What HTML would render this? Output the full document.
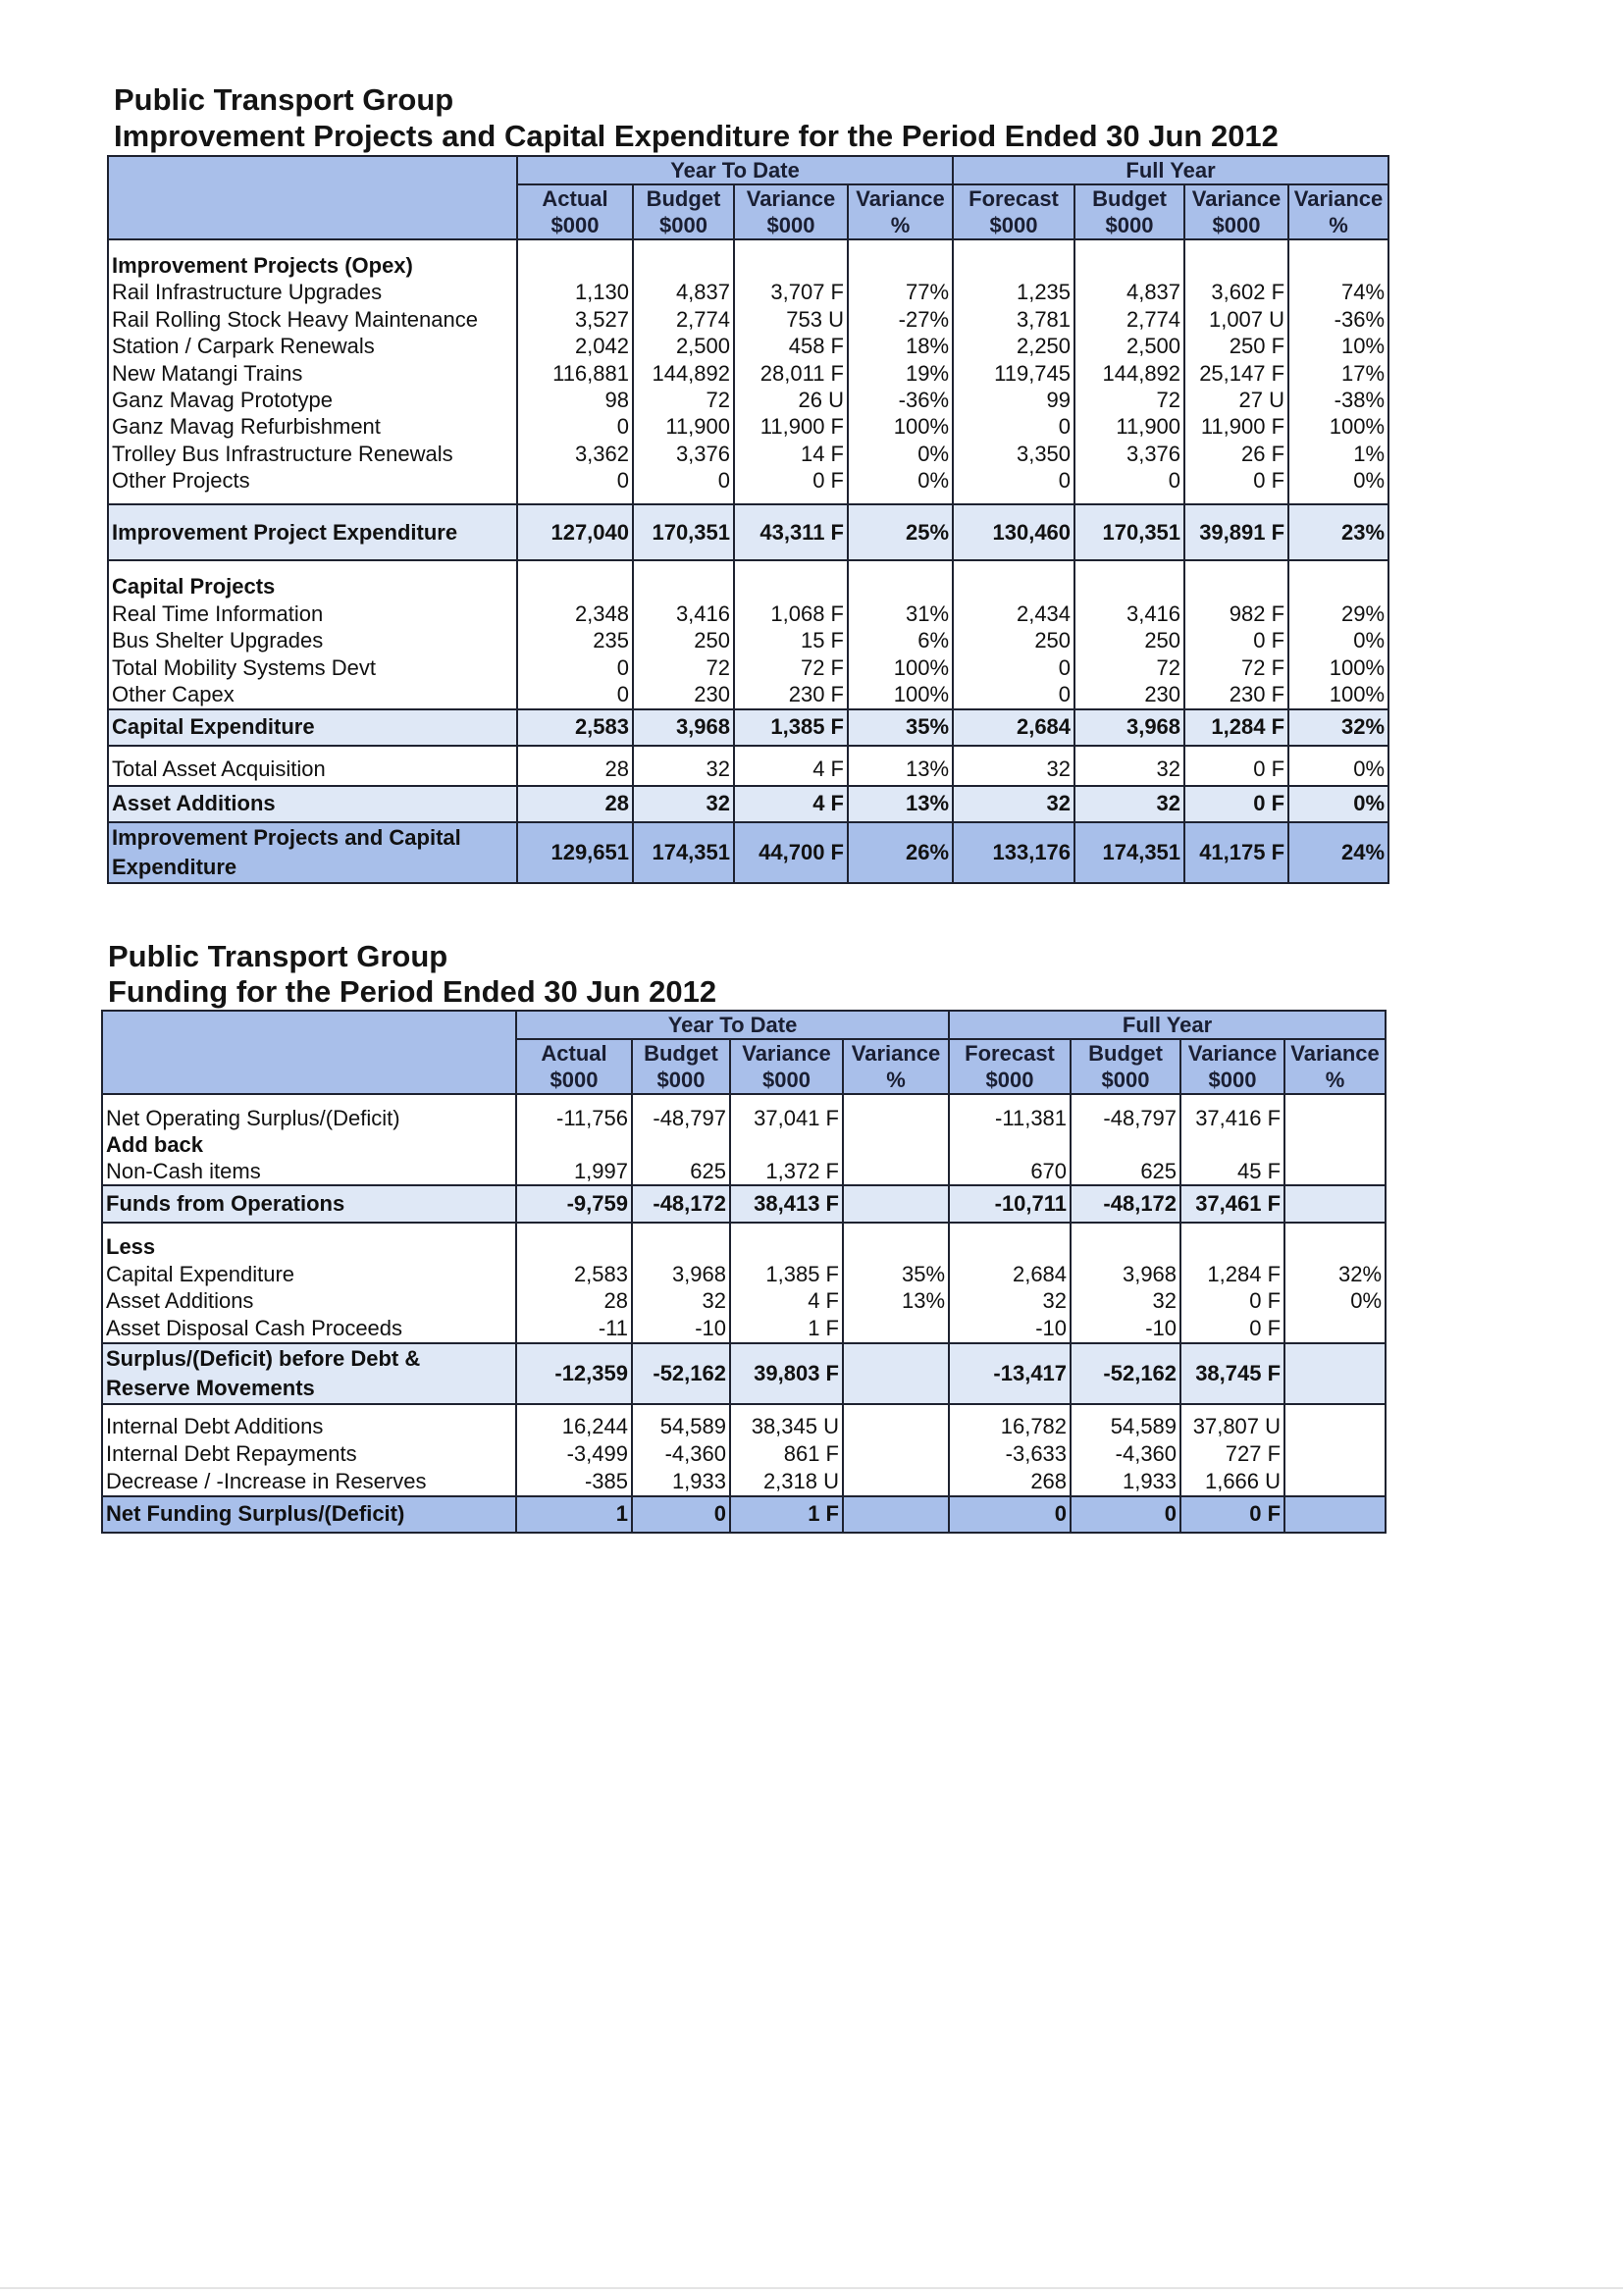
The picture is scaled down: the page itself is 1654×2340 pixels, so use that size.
<!DOCTYPE html>
<html><head><meta charset="utf-8"><style>
body{margin:0;width:1654px;height:2340px;background:#fff;position:relative;overflow:hidden;font-family:"Liberation Sans",Arial,sans-serif;color:#111}
.ti{position:absolute;font-weight:bold;font-size:31px;line-height:31px;white-space:nowrap;color:#141414}
table{position:absolute;border-collapse:collapse;table-layout:fixed;font-size:22px}
td{border:2px solid #1e2230;padding:0 3px;vertical-align:top;white-space:nowrap;overflow:hidden}
.h{background:#a9bfea;font-weight:bold;text-align:center;vertical-align:middle;line-height:27px;color:#1a1f33}
.r{text-align:right}
.s{background:#dfe8f6;font-weight:bold;vertical-align:middle}
.f{background:#a8bfea;font-weight:bold;vertical-align:middle}
b{font-weight:bold}
</style></head><body>

<div class="ti" style="left:116px;top:86px">Public Transport Group</div>
<div class="ti" style="left:116px;top:123px">Improvement Projects and Capital Expenditure for the Period Ended 30 Jun 2012</div>

<table style="left:109px;top:158px;width:1305px">
<colgroup><col style="width:417px"><col style="width:118px"><col style="width:103px"><col style="width:116px"><col style="width:107px"><col style="width:124px"><col style="width:112px"><col style="width:106px"><col style="width:102px"></colgroup>
<tr style="height:29px"><td class="h" rowspan="2"></td><td class="h" colspan="4">Year To Date</td><td class="h" colspan="4">Full Year</td></tr>
<tr style="height:55px"><td class="h">Actual<br>$000</td><td class="h">Budget<br>$000</td><td class="h">Variance<br>$000</td><td class="h">Variance<br>%</td><td class="h">Forecast<br>$000</td><td class="h">Budget<br>$000</td><td class="h">Variance<br>$000</td><td class="h">Variance<br>%</td></tr>
<tr style="height:270px;line-height:27.4px">
<td style="padding-top:12px"><b>Improvement Projects (Opex)</b><br>Rail Infrastructure Upgrades<br>Rail Rolling Stock Heavy Maintenance<br>Station / Carpark Renewals<br>New Matangi Trains<br>Ganz Mavag Prototype<br>Ganz Mavag Refurbishment<br>Trolley Bus Infrastructure Renewals<br>Other Projects</td>
<td class="r" style="padding-top:12px">&nbsp;<br>1,130<br>3,527<br>2,042<br>116,881<br>98<br>0<br>3,362<br>0</td>
<td class="r" style="padding-top:12px">&nbsp;<br>4,837<br>2,774<br>2,500<br>144,892<br>72<br>11,900<br>3,376<br>0</td>
<td class="r" style="padding-top:12px">&nbsp;<br>3,707 F<br>753 U<br>458 F<br>28,011 F<br>26 U<br>11,900 F<br>14 F<br>0 F</td>
<td class="r" style="padding-top:12px">&nbsp;<br>77%<br>-27%<br>18%<br>19%<br>-36%<br>100%<br>0%<br>0%</td>
<td class="r" style="padding-top:12px">&nbsp;<br>1,235<br>3,781<br>2,250<br>119,745<br>99<br>0<br>3,350<br>0</td>
<td class="r" style="padding-top:12px">&nbsp;<br>4,837<br>2,774<br>2,500<br>144,892<br>72<br>11,900<br>3,376<br>0</td>
<td class="r" style="padding-top:12px">&nbsp;<br>3,602 F<br>1,007 U<br>250 F<br>25,147 F<br>27 U<br>11,900 F<br>26 F<br>0 F</td>
<td class="r" style="padding-top:12px">&nbsp;<br>74%<br>-36%<br>10%<br>17%<br>-38%<br>100%<br>1%<br>0%</td></tr>
<tr style="height:57px"><td class="s">Improvement Project Expenditure</td><td class="s r">127,040</td><td class="s r">170,351</td><td class="s r">43,311 F</td><td class="s r">25%</td><td class="s r">130,460</td><td class="s r">170,351</td><td class="s r">39,891 F</td><td class="s r">23%</td></tr>
<tr style="height:149px;line-height:27.5px">
<td style="padding-top:12px"><b>Capital Projects</b><br>Real Time Information<br>Bus Shelter Upgrades<br>Total Mobility Systems Devt<br>Other Capex</td>
<td class="r" style="padding-top:12px">&nbsp;<br>2,348<br>235<br>0<br>0</td>
<td class="r" style="padding-top:12px">&nbsp;<br>3,416<br>250<br>72<br>230</td>
<td class="r" style="padding-top:12px">&nbsp;<br>1,068 F<br>15 F<br>72 F<br>230 F</td>
<td class="r" style="padding-top:12px">&nbsp;<br>31%<br>6%<br>100%<br>100%</td>
<td class="r" style="padding-top:12px">&nbsp;<br>2,434<br>250<br>0<br>0</td>
<td class="r" style="padding-top:12px">&nbsp;<br>3,416<br>250<br>72<br>230</td>
<td class="r" style="padding-top:12px">&nbsp;<br>982 F<br>0 F<br>72 F<br>230 F</td>
<td class="r" style="padding-top:12px">&nbsp;<br>29%<br>0%<br>100%<br>100%</td></tr>
<tr style="height:37px"><td class="s">Capital Expenditure</td><td class="s r">2,583</td><td class="s r">3,968</td><td class="s r">1,385 F</td><td class="s r">35%</td><td class="s r">2,684</td><td class="s r">3,968</td><td class="s r">1,284 F</td><td class="s r">32%</td></tr>
<tr style="height:41px"><td style="vertical-align:bottom;padding-bottom:3px">Total Asset Acquisition</td><td class="r" style="vertical-align:bottom;padding-bottom:3px">28</td><td class="r" style="vertical-align:bottom;padding-bottom:3px">32</td><td class="r" style="vertical-align:bottom;padding-bottom:3px">4 F</td><td class="r" style="vertical-align:bottom;padding-bottom:3px">13%</td><td class="r" style="vertical-align:bottom;padding-bottom:3px">32</td><td class="r" style="vertical-align:bottom;padding-bottom:3px">32</td><td class="r" style="vertical-align:bottom;padding-bottom:3px">0 F</td><td class="r" style="vertical-align:bottom;padding-bottom:3px">0%</td></tr>
<tr style="height:37px"><td class="s">Asset Additions</td><td class="s r">28</td><td class="s r">32</td><td class="s r">4 F</td><td class="s r">13%</td><td class="s r">32</td><td class="s r">32</td><td class="s r">0 F</td><td class="s r">0%</td></tr>
<tr style="height:60px"><td class="f" style="line-height:30px">Improvement Projects and Capital<br>Expenditure</td><td class="f r">129,651</td><td class="f r">174,351</td><td class="f r">44,700 F</td><td class="f r">26%</td><td class="f r">133,176</td><td class="f r">174,351</td><td class="f r">41,175 F</td><td class="f r">24%</td></tr>
</table>

<div class="ti" style="left:110px;top:959px">Public Transport Group</div>
<div class="ti" style="left:110px;top:995px">Funding for the Period Ended 30 Jun 2012</div>

<table style="left:103px;top:1029px;width:1308px">
<colgroup><col style="width:422px"><col style="width:118px"><col style="width:100px"><col style="width:115px"><col style="width:108px"><col style="width:124px"><col style="width:112px"><col style="width:106px"><col style="width:103px"></colgroup>
<tr style="height:28px"><td class="h" rowspan="2"></td><td class="h" colspan="4">Year To Date</td><td class="h" colspan="4">Full Year</td></tr>
<tr style="height:56px"><td class="h">Actual<br>$000</td><td class="h">Budget<br>$000</td><td class="h">Variance<br>$000</td><td class="h">Variance<br>%</td><td class="h">Forecast<br>$000</td><td class="h">Budget<br>$000</td><td class="h">Variance<br>$000</td><td class="h">Variance<br>%</td></tr>
<tr style="height:92px;line-height:27px">
<td style="padding-top:10px">Net Operating Surplus/(Deficit)<br><b>Add back</b><br>Non-Cash items</td>
<td class="r" style="padding-top:10px">-11,756<br>&nbsp;<br>1,997</td>
<td class="r" style="padding-top:10px">-48,797<br>&nbsp;<br>625</td>
<td class="r" style="padding-top:10px">37,041 F<br>&nbsp;<br>1,372 F</td>
<td class="r" style="padding-top:10px"></td>
<td class="r" style="padding-top:10px">-11,381<br>&nbsp;<br>670</td>
<td class="r" style="padding-top:10px">-48,797<br>&nbsp;<br>625</td>
<td class="r" style="padding-top:10px">37,416 F<br>&nbsp;<br>45 F</td>
<td class="r" style="padding-top:10px"></td></tr>
<tr style="height:38px"><td class="s">Funds from Operations</td><td class="s r">-9,759</td><td class="s r">-48,172</td><td class="s r">38,413 F</td><td class="s r"></td><td class="s r">-10,711</td><td class="s r">-48,172</td><td class="s r">37,461 F</td><td class="s r"></td></tr>
<tr style="height:121px;line-height:27.7px">
<td style="padding-top:10px"><b>Less</b><br>Capital Expenditure<br>Asset Additions<br>Asset Disposal Cash Proceeds</td>
<td class="r" style="padding-top:10px">&nbsp;<br>2,583<br>28<br>-11</td>
<td class="r" style="padding-top:10px">&nbsp;<br>3,968<br>32<br>-10</td>
<td class="r" style="padding-top:10px">&nbsp;<br>1,385 F<br>4 F<br>1 F</td>
<td class="r" style="padding-top:10px">&nbsp;<br>35%<br>13%</td>
<td class="r" style="padding-top:10px">&nbsp;<br>2,684<br>32<br>-10</td>
<td class="r" style="padding-top:10px">&nbsp;<br>3,968<br>32<br>-10</td>
<td class="r" style="padding-top:10px">&nbsp;<br>1,284 F<br>0 F<br>0 F</td>
<td class="r" style="padding-top:10px">&nbsp;<br>32%<br>0%</td></tr>
<tr style="height:59px"><td class="s" style="line-height:30px">Surplus/(Deficit) before Debt &amp;<br>Reserve Movements</td><td class="s r">-12,359</td><td class="s r">-52,162</td><td class="s r">39,803 F</td><td class="s r"></td><td class="s r">-13,417</td><td class="s r">-52,162</td><td class="s r">38,745 F</td><td class="s r"></td></tr>
<tr style="height:91px;line-height:28px">
<td style="padding-top:8px">Internal Debt Additions<br>Internal Debt Repayments<br>Decrease / -Increase in Reserves</td>
<td class="r" style="padding-top:8px">16,244<br>-3,499<br>-385</td>
<td class="r" style="padding-top:8px">54,589<br>-4,360<br>1,933</td>
<td class="r" style="padding-top:8px">38,345 U<br>861 F<br>2,318 U</td>
<td></td>
<td class="r" style="padding-top:8px">16,782<br>-3,633<br>268</td>
<td class="r" style="padding-top:8px">54,589<br>-4,360<br>1,933</td>
<td class="r" style="padding-top:8px">37,807 U<br>727 F<br>1,666 U</td>
<td></td></tr>
<tr style="height:37px"><td class="f">Net Funding Surplus/(Deficit)</td><td class="f r">1</td><td class="f r">0</td><td class="f r">1 F</td><td class="f r"></td><td class="f r">0</td><td class="f r">0</td><td class="f r">0 F</td><td class="f r"></td></tr>
</table>

<div style="position:absolute;left:0;top:2331px;width:1654px;height:2px;background:#e4e4e4"></div>
</body></html>
